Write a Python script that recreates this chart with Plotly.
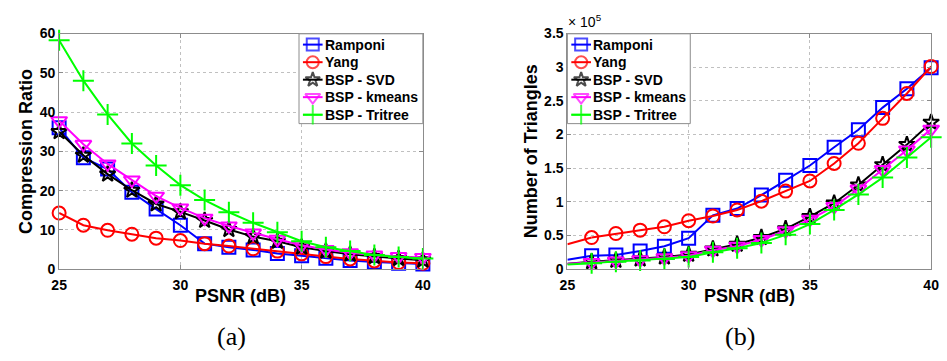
import plotly.graph_objects as go

# ---------------- data ----------------
psnr = [25, 26, 27, 28, 29, 30, 31, 32, 33, 34, 35, 36, 37, 38, 39, 40]

series_names = ["Ramponi", "Yang", "BSP - SVD", "BSP - kmeans", "BSP - Tritree"]

# (a) Compression ratio
cr_ramponi = [36.0, 28.4, 25.5, 19.6, 15.3, 11.2, 6.5, 5.6, 4.9, 4.0, 3.4, 2.8, 2.2, 1.8, 1.5, 1.3]
cr_yang    = [14.3, 11.2, 9.9, 8.9, 7.9, 7.3, 6.5, 5.9, 5.2, 4.6, 3.9, 3.2, 2.6, 2.1, 1.7, 1.5]
cr_svd     = [35.0, 29.0, 24.2, 20.1, 16.6, 14.6, 12.4, 10.1, 8.3, 7.1, 5.6, 4.6, 3.8, 3.2, 2.7, 2.3]
cr_kmeans  = [37.8, 31.8, 26.8, 22.7, 18.6, 15.6, 13.0, 11.0, 9.2, 7.6, 6.1, 5.0, 4.2, 3.6, 3.2, 3.0]
cr_tritree = [58.3, 48.0, 39.4, 32.0, 26.4, 21.4, 17.6, 14.5, 11.8, 9.4, 7.1, 5.6, 4.6, 3.6, 3.1, 2.7]

# (b) Number of triangles (x 10^5)
tri_ramponi = [0.14, 0.20, 0.21, 0.27, 0.34, 0.46, 0.80, 0.90, 1.10, 1.32, 1.54, 1.81, 2.07, 2.40, 2.68, 2.99]
tri_yang    = [0.37, 0.47, 0.53, 0.58, 0.63, 0.72, 0.79, 0.88, 1.01, 1.16, 1.31, 1.57, 1.87, 2.24, 2.61, 3.01]
tri_svd     = [0.08, 0.11, 0.13, 0.15, 0.18, 0.22, 0.30, 0.37, 0.47, 0.60, 0.78, 0.98, 1.25, 1.55, 1.85, 2.18]
tri_kmeans  = [0.08, 0.10, 0.12, 0.14, 0.17, 0.20, 0.28, 0.34, 0.44, 0.57, 0.74, 0.93, 1.19, 1.48, 1.77, 2.08]
tri_tritree = [0.07, 0.09, 0.11, 0.13, 0.15, 0.18, 0.25, 0.31, 0.39, 0.51, 0.67, 0.88, 1.11, 1.36, 1.66, 1.96]

x_ticks = [25, 30, 35, 40]
cr_ticks = [0, 10, 20, 30, 40, 50, 60]
tri_ticks = [0, 0.5, 1, 1.5, 2, 2.5, 3, 3.5]
tri_ticklabels = ["0", "0.5", "1", "1.5", "2", "2.5", "3", "3.5"]

# ---------------- styles ----------------
colors = ["#0000FF", "#FF0000", "#000000", "#FF00FF", "#00FF00"]
symbols = ["square-open", "circle-open", "star-open", "triangle-down-open", "cross-thin-open"]
msizes = [13, 13, 12, 14, 15]
leg_sizes = [12, 12, 11, 13, 14]

W, H = 947, 361
def px_x(p):
    return p / W
def px_y(p):
    return (H - p) / H

fig = go.Figure()

cr_data = [cr_ramponi, cr_yang, cr_svd, cr_kmeans, cr_tritree]
tri_data = [tri_ramponi, tri_yang, tri_svd, tri_kmeans, tri_tritree]

for i, name in enumerate(series_names):
    fig.add_trace(go.Scatter(
        x=psnr, y=cr_data[i], name=name, mode="lines+markers",
        line=dict(color=colors[i], width=2),
        marker=dict(symbol=symbols[i], size=msizes[i], color=colors[i],
                    line=dict(color=colors[i], width=2)),
        xaxis="x", yaxis="y", showlegend=False, cliponaxis=False,
    ))

for i, name in enumerate(series_names):
    fig.add_trace(go.Scatter(
        x=psnr[:2], y=tri_data[i][:2], mode="lines", showlegend=False,
        line=dict(color=colors[i], width=2), xaxis="x2", yaxis="y2",
        hoverinfo="skip",
    ))
    fig.add_trace(go.Scatter(
        x=psnr[1:], y=tri_data[i][1:], name=name, mode="lines+markers",
        line=dict(color=colors[i], width=2),
        marker=dict(symbol=symbols[i], size=msizes[i], color=colors[i],
                    line=dict(color=colors[i], width=2)),
        xaxis="x2", yaxis="y2", showlegend=False, cliponaxis=False,
    ))

# ---------------- hand-drawn legends (overlay pixel axes) ----------------
legend_boxes = [(296, 27, 422, 121), (569, 27, 694, 121)]
row_y = [38.3, 56.7, 75.0, 93.3, 111.7]
leg_font = dict(family="Liberation Sans, Arial", size=14, color="black", weight="bold")
annotations = []
for (x0, y0, x1, y1) in legend_boxes:
    fig.add_trace(go.Scatter(
        x=[x0, x1, x1, x0, x0], y=[y0, y0, y1, y1, y0], mode="lines",
        fill="toself", fillcolor="white", line=dict(color="#8c8c8c", width=1),
        xaxis="x3", yaxis="y3", showlegend=False, hoverinfo="skip",
    ))
    for i, name in enumerate(series_names):
        mx = x0 + 14
        fig.add_trace(go.Scatter(
            x=[mx - 10, mx, mx + 10], y=[row_y[i]] * 3, mode="lines+markers",
            line=dict(color=colors[i], width=2),
            marker=dict(symbol=symbols[i], size=[0, leg_sizes[i], 0], color=colors[i],
                        line=dict(color=colors[i], width=2)),
            xaxis="x3", yaxis="y3", showlegend=False, hoverinfo="skip",
            cliponaxis=False,
        ))
        annotations.append(dict(text=name, x=px_x(x0 + 24.5), y=px_y(row_y[i]),
                                xanchor="left", yanchor="middle", font=leg_font))

tickfont = dict(family="Liberation Sans, Arial", size=14, color="black", weight="bold")
axis_common = dict(
    showline=True, linecolor="#8c8c8c", linewidth=1, mirror="ticks",
    ticks="inside", ticklen=4, tickcolor="#8c8c8c",
    showgrid=True, gridcolor="#c0c0c0", griddash="dot", gridwidth=1,
    zeroline=False, tickfont=tickfont, ticklabeloverflow="allow",
)

ydom = [px_y(273.3), px_y(26.7)]
fig.update_layout(
    width=W, height=H,
    margin=dict(l=0, r=0, t=0, b=0),
    paper_bgcolor="white", plot_bgcolor="rgba(0,0,0,0)",
    showlegend=False,
    xaxis=dict(domain=[px_x(52), px_x(422)], range=[25, 40], tickvals=x_ticks,
               anchor="y", ticklabelstandoff=3, **axis_common),
    yaxis=dict(domain=ydom, range=[0, 60], tickvals=cr_ticks, anchor="x",
               **axis_common),
    xaxis2=dict(domain=[px_x(569), px_x(939)], range=[25, 40], tickvals=x_ticks,
                anchor="y2", ticklabelstandoff=3, **axis_common),
    yaxis2=dict(domain=ydom, range=[0, 3.5], tickvals=tri_ticks,
                ticktext=tri_ticklabels, anchor="x2", **axis_common),
    xaxis3=dict(domain=[0, 1], range=[0, W], visible=False, fixedrange=True, anchor="y3"),
    yaxis3=dict(domain=[0, 1], range=[H, 0], visible=False, fixedrange=True, anchor="x3"),
)

title_font = dict(family="Liberation Sans, Arial", size=18, color="black", weight="bold")
annotations += [
    dict(text="PSNR (dB)", x=px_x(237), y=px_y(301), xanchor="center", yanchor="middle", font=title_font),
    dict(text="PSNR (dB)", x=px_x(754), y=px_y(301), xanchor="center", yanchor="middle", font=title_font),
    dict(text="Compression Ratio", x=px_x(19), y=px_y(150), textangle=-90,
         xanchor="center", yanchor="middle", font=title_font),
    dict(text="Number of Triangles", x=px_x(532), y=px_y(150), textangle=-90,
         xanchor="center", yanchor="middle", font=title_font),
    dict(text="× 10<sup>5</sup>", x=px_x(568), y=px_y(25), xanchor="left", yanchor="bottom",
         font=dict(family="Liberation Sans, Arial", size=14, color="black")),
    dict(text="(a)", x=px_x(227.5), y=px_y(343.5), xanchor="center", yanchor="middle",
         font=dict(family="Liberation Serif, serif", size=26, color="black")),
    dict(text="(b)", x=px_x(744.5), y=px_y(343.5), xanchor="center", yanchor="middle",
         font=dict(family="Liberation Serif, serif", size=26, color="black")),
]
for a in annotations:
    a.update(xref="paper", yref="paper", showarrow=False)
fig.update_layout(annotations=annotations)

fig.write_html(
    "out.html",
    config={"displayModeBar": False, "responsive": False},
    post_script="document.body.style.margin='0';document.body.style.overflow='hidden';",
)
